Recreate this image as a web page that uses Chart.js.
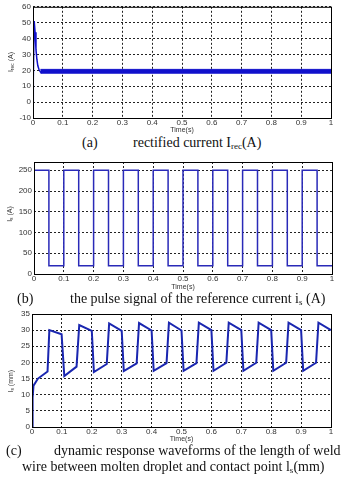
<!DOCTYPE html>
<html>
<head>
<meta charset="utf-8">
<script src="https://cdn.jsdelivr.net/npm/chart.js@4.4.1/dist/chart.umd.min.js"></script>
<style>
  body { margin: 0; width: 352px; height: 480px; background: #fff; position: relative; overflow: hidden; }
  canvas { position: absolute; left: 0; }
  .cap { position: absolute; font-family: "Liberation Serif", serif; font-size: 14px; line-height: 14px; color: #111; white-space: nowrap; z-index: 2; }
  .cap sub { font-size: 9px; vertical-align: -2px; line-height: 0; }
  .ylab { position: absolute; font-family: "Liberation Sans", Arial, sans-serif; font-size: 7px; color: #333; white-space: nowrap;
          transform: translate(-50%, -50%) rotate(-90deg); }
  .ylab sub { font-size: 5px; vertical-align: -1px; line-height: 0; }
</style>
</head>
<body>

<canvas id="chartA" width="352" height="134" style="top:0px"></canvas>
<canvas id="chartB" width="352" height="136" style="top:155px"></canvas>
<canvas id="chartC" width="352" height="137" style="top:306px"></canvas>

<div class="ylab" style="left:10px;top:62px">I<sub>rec</sub> (A)</div>
<div class="ylab" style="left:9px;top:214px">I<sub>s</sub> (A)</div>
<div class="ylab" style="left:10px;top:381px">l<sub>s</sub> (mm)</div>

<div class="cap" style="left:82px;top:136px">(a)</div>
<div class="cap" style="left:133px;top:136px">rectified current I<sub>rec</sub>(A)</div>
<div class="cap" style="left:17px;top:292px">(b)</div>
<div class="cap" style="left:70px;top:292px">the pulse signal of the reference current i<sub>s</sub> (A)</div>
<div class="cap" style="left:6px;top:444px">(c)</div>
<div class="cap" style="left:54px;top:444px">dynamic response waveforms of the length of weld</div>
<div class="cap" style="left:22px;top:460px">wire between molten droplet and contact point l<sub>s</sub>(mm)</div>

<script>
// (a) rectified current: start-up transient, then ripple band
var recTime = [0, 0.001, 0.004, 0.007, 0.010, 0.013, 0.016, 0.020, 0.025, 0.030];
var recCurrent = [0, 14, 51, 44, 33, 27, 23, 20.5, 19, 18.4];
var rippleTime = [0.025, 1];
var rippleHigh = [20.6, 20.6];
var rippleLow = [18.2, 18.2];

// (b) reference current pulses
var pulseTime = [0, 0.05, 0.1, 0.15, 0.2, 0.25, 0.3, 0.35, 0.4, 0.45, 0.5, 0.55, 0.6, 0.65, 0.7, 0.75, 0.8, 0.85, 0.9, 0.95, 1];
var pulseCurrent = [250, 20, 250, 20, 250, 20, 250, 20, 250, 20, 250, 20, 250, 20, 250, 20, 250, 20, 250, 20, 20];

// (c) wire length between droplet and contact point
var wireTime = [0, 0.002, 0.005, 0.02, 0.052, 0.058, 0.099, 0.108, 0.149, 0.158, 0.2, 0.207, 0.25, 0.258, 0.3, 0.307,
  0.35, 0.358, 0.4, 0.407, 0.45, 0.458, 0.5, 0.507, 0.55, 0.558, 0.6, 0.607, 0.65, 0.658, 0.7, 0.707,
  0.75, 0.758, 0.8, 0.807, 0.85, 0.858, 0.9, 0.907, 0.95, 0.958, 1];
var wireLength = [0, 9, 12.8, 15, 17.2, 30, 28.7, 15.8, 18.7, 31.6, 29.8, 17.0, 19.5, 32.1, 29.8, 17.3,
  19.7, 32.2, 29.9, 17.4, 19.8, 32.3, 29.9, 17.4, 19.8, 32.3, 30, 17.4, 19.9, 32.3, 30, 17.4,
  19.9, 32.3, 30, 17.4, 19.9, 32.3, 30, 17.4, 19.9, 32.3, 30.0];

// tick labels
var timeStep = 0.1;

function pts(xs, ys) {
  return xs.map(function (x, i) { return { x: x, y: ys[i] }; });
}

// black box round the plot area, like matlab
var framePlugin = {
  id: 'frame',
  afterDraw: function (chart) {
    var a = chart.chartArea, ctx = chart.ctx;
    ctx.save();
    ctx.strokeStyle = '#000';
    ctx.lineWidth = 1;
    ctx.setLineDash([]);
    ctx.strokeRect(a.left + 0.5, a.top + 0.5, a.right - a.left, a.bottom - a.top);
    ctx.restore();
  }
};

var tickFont = { family: 'Liberation Sans', size: 8 };

function makeChart(id, datasets, yMin, yMax, yStep, box) {
  return new Chart(document.getElementById(id), {
    type: 'line',
    data: { datasets: datasets },
    options: {
      responsive: false,
      animation: false,
      layout: { padding: { top: box.top, right: box.right, left: 0, bottom: 0 } },
      plugins: { legend: { display: false }, tooltip: { enabled: false } },
      elements: { point: { radius: 0 }, line: { tension: 0 } },
      scales: {
        x: {
          type: 'linear', min: 0, max: 1,
          ticks: {
            stepSize: timeStep, maxRotation: 0, autoSkip: false, padding: 0, color: '#333', font: tickFont,
            callback: function (v) { return String(Math.round(v * 10) / 10); }
          },
          grid: { color: '#222', lineWidth: 1, drawTicks: false },
          border: { display: false, dash: [2, 2] },
          title: { display: true, text: 'Time(s)', padding: 0, color: '#333', font: { family: 'Liberation Sans', size: 7 } },
          afterFit: function (s) { s.height = box.xh; }
        },
        y: {
          type: 'linear', min: yMin, max: yMax,
          ticks: { stepSize: yStep, includeBounds: false, padding: 2, color: '#333', font: tickFont },
          grid: { color: '#222', lineWidth: 1, drawTicks: false },
          border: { display: false, dash: [2, 2] },
          afterFit: function (s) { s.width = box.left; }
        }
      }
    },
    plugins: [framePlugin]
  });
}

makeChart('chartA', [
  { data: pts(rippleTime, rippleHigh), borderColor: '#1010cc', borderWidth: 1, fill: false },
  { data: pts(rippleTime, rippleLow), borderColor: '#1010cc', borderWidth: 1, backgroundColor: '#1010cc', fill: '-1' },
  { data: pts(recTime, recCurrent), borderColor: '#1010cc', borderWidth: 1.5, fill: false }
], -10, 60, 10, { top: 6, right: 21, left: 33, xh: 16 });

makeChart('chartB', [
  { data: pts(pulseTime, pulseCurrent), borderColor: '#2a2ab8', borderWidth: 1.5, stepped: true, fill: false }
], 0, 270, 50, { top: 7, right: 20, left: 34, xh: 17 });

makeChart('chartC', [
  { data: pts(wireTime, wireLength), borderColor: '#1a26b0', borderWidth: 2, fill: false }
], 0, 35, 5, { top: 8, right: 21, left: 32, xh: 16 });
</script>
</body>
</html>
